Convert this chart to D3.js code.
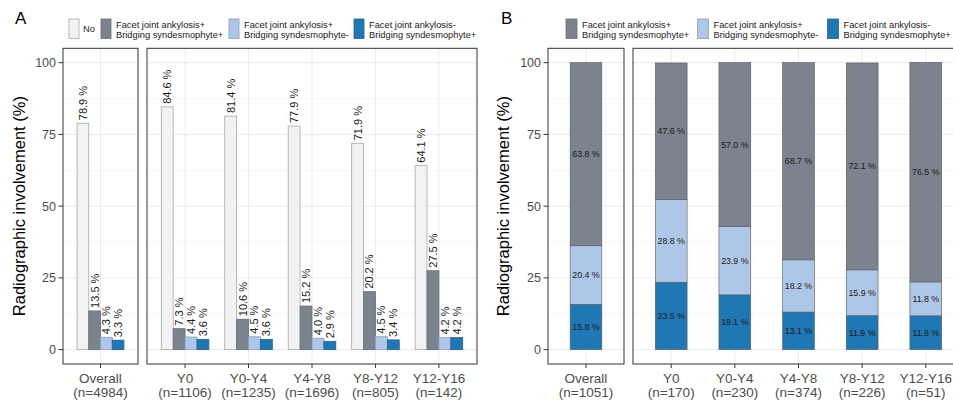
<!DOCTYPE html>
<html>
<head>
<meta charset="utf-8">
<script src="https://cdn.jsdelivr.net/npm/d3@7"></script>
<style>
  html, body { margin: 0; padding: 0; background: #fff; }
  svg { display: block; font-family: "Liberation Sans", Arial, sans-serif; }
</style>
</head>
<body>
<svg id="chart" width="953" height="403"></svg>
<script>
// ---------- DATA ----------
const categories = ["Overall", "Y0", "Y0-Y4", "Y4-Y8", "Y8-Y12", "Y12-Y16"];
const nA = [4984, 1106, 1235, 1696, 805, 142];
const nB = [1051, 170, 230, 374, 226, 51];

// Panel A (grouped bars, %)
const noA        = [78.9, 84.6, 81.4, 77.9, 71.9, 64.1];
const bothA      = [13.5, 7.3, 10.6, 15.2, 20.2, 27.5];
const facetOnlyA = [4.3, 4.4, 4.5, 4.0, 4.5, 4.2];
const bridgeOnlyA= [3.3, 3.6, 3.6, 2.9, 3.4, 4.2];

// Panel B (stacked bars, %)
const bothB      = [63.8, 47.6, 57.0, 68.7, 72.1, 76.5];
const facetOnlyB = [20.4, 28.8, 23.9, 18.2, 15.9, 11.8];
const bridgeOnlyB= [15.8, 23.5, 19.1, 13.1, 11.9, 11.8];

const yTicks = [0, 25, 50, 75, 100];
const yMinor = [12.5, 37.5, 62.5, 87.5];

const seriesNames = ["No", "Facet joint ankylosis+\nBridging syndesmophyte+",
  "Facet joint ankylosis+\nBridging syndesmophyte-", "Facet joint ankylosis-\nBridging syndesmophyte+"];
const seriesKeys = ["no", "both", "facet", "bridge"];
const colors = { no: "#f2f2f2", both: "#7b838e", facet: "#aec7e8", bridge: "#1f77b4" };
const strokesA = { no: "#a8a8a8", both: "#6a6f77", facet: "#8e9fb8", bridge: "#2a5f8a" };

// ---------- LAYOUT ----------
const svg = d3.select("#chart");
const yTop = 48.3, yBottom = 364;
const y = d3.scaleLinear().domain([-5, 105]).range([yBottom, yTop]);

function drawPanel(opts) {
  const g = svg.append("g");
  const facets = [
    { x0: opts.left[0], x1: opts.left[1], cats: [0] },
    { x0: opts.right[0], x1: opts.right[1], cats: [1, 2, 3, 4, 5] }
  ];
  facets.forEach((f, fi) => {
    const x = d3.scalePoint().domain(f.cats).range([f.x0, f.x1]).padding(0.6);
    const clipId = "clip" + opts.id + fi;
    svg.append("clipPath").attr("id", clipId).append("rect")
      .attr("x", f.x0).attr("y", yTop).attr("width", f.x1 - f.x0).attr("height", yBottom - yTop);
    const pg = g.append("g").attr("clip-path", `url(#${clipId})`);
    // grid
    pg.selectAll(".minor").data(yMinor).join("line")
      .attr("x1", f.x0).attr("x2", f.x1).attr("y1", d => y(d)).attr("y2", d => y(d))
      .attr("stroke", "#f2f2f2").attr("stroke-width", 0.6);
    pg.selectAll(".major").data(yTicks).join("line")
      .attr("x1", f.x0).attr("x2", f.x1).attr("y1", d => y(d)).attr("y2", d => y(d))
      .attr("stroke", "#ebebeb").attr("stroke-width", 1);
    pg.selectAll(".vmajor").data(f.cats).join("line")
      .attr("x1", d => x(d)).attr("x2", d => x(d)).attr("y1", yTop).attr("y2", yBottom)
      .attr("stroke", "#ebebeb").attr("stroke-width", 1);
    opts.drawBars(pg, f, x);
    // border
    g.append("rect").attr("x", f.x0).attr("y", yTop).attr("width", f.x1 - f.x0).attr("height", yBottom - yTop)
      .attr("fill", "none").attr("stroke", "#333").attr("stroke-width", 1);
    // x ticks and labels
    f.cats.forEach(c => {
      g.append("line").attr("x1", x(c)).attr("x2", x(c)).attr("y1", yBottom).attr("y2", yBottom + 4)
        .attr("stroke", "#333").attr("stroke-width", 1);
      const t = g.append("text").attr("x", x(c)).attr("y", 383).attr("text-anchor", "middle")
        .attr("font-size", 13.5).attr("fill", "#4d4d4d");
      t.append("tspan").attr("x", x(c)).text(categories[c]);
      t.append("tspan").attr("x", x(c)).attr("dy", 14).text(`(n=${opts.n[c]})`);
    });
  });
  // y axis on left facet
  const ax = opts.left[0];
  yTicks.forEach(v => {
    g.append("line").attr("x1", ax - 4.5).attr("x2", ax).attr("y1", y(v)).attr("y2", y(v))
      .attr("stroke", "#333").attr("stroke-width", 1);
    g.append("text").attr("x", ax - 7).attr("y", y(v)).attr("dy", "0.35em").attr("text-anchor", "end")
      .attr("font-size", 12.5).attr("fill", "#4d4d4d").text(v);
  });
  g.append("text").attr("transform", `translate(${opts.titleX},${(yTop + yBottom) / 2}) rotate(-90)`)
    .attr("text-anchor", "middle").attr("font-size", 16.5).attr("fill", "#000")
    .text("Radiographic involvement (%)");
  // panel tag
  g.append("text").attr("x", opts.tagX).attr("y", 24).attr("font-size", 17).attr("fill", "#000").text(opts.id);
  // legend
  opts.legend.forEach(l => {
    g.append("rect").attr("x", l.x).attr("y", 19).attr("width", l.w).attr("height", 19.5)
      .attr("fill", colors[l.key]).attr("stroke", strokesA[l.key]).attr("stroke-width", 0.8);
    const lines = seriesNames[seriesKeys.indexOf(l.key)].split("\n");
    const t = g.append("text").attr("font-size", 9.3).attr("fill", "#1a1a1a");
    if (lines.length === 1) {
      t.attr("x", l.x + l.w + 4).attr("y", 32).text(lines[0]);
    } else {
      lines.forEach((s, i) => t.append("tspan").attr("x", l.x + l.w + 5).attr("y", 27.6 + i * 10).text(s));
    }
  });
}

// Panel A
const seriesA = { no: noA, both: bothA, facet: facetOnlyA, bridge: bridgeOnlyA };
drawPanel({
  id: "A", left: [63, 138], right: [147, 477], n: nA, titleX: 25, tagX: 15,
  legend: [ { key: "no", x: 69, w: 10 }, { key: "both", x: 101, w: 10 },
            { key: "facet", x: 229, w: 10 }, { key: "bridge", x: 354, w: 10 } ],
  drawBars: (pg, f, x) => {
    const step = x.step();
    const inner = d3.scaleBand().domain(seriesKeys).range([-0.375 * step, 0.375 * step]);
    f.cats.forEach(c => {
      seriesKeys.forEach(k => {
        const v = seriesA[k][c];
        const bx = x(c) + inner(k);
        pg.append("rect").attr("x", bx).attr("width", inner.bandwidth())
          .attr("y", y(v)).attr("height", y(0) - y(v))
          .attr("fill", colors[k]).attr("stroke", strokesA[k]).attr("stroke-width", 0.8);
        pg.append("text")
          .attr("transform", `translate(${bx + inner.bandwidth() / 2},${y(v) - 3}) rotate(-90)`)
          .attr("dy", "0.36em").attr("font-size", 11).attr("fill", "#1a1a1a")
          .text(v.toFixed(1) + " %");
      });
    });
  }
});

// Panel B
const stackOrder = ["bridge", "facet", "both"];
const seriesB = { both: bothB, facet: facetOnlyB, bridge: bridgeOnlyB };
drawPanel({
  id: "B", left: [548, 624], right: [633, 964], n: nB, titleX: 509, tagX: 501,
  legend: [ { key: "both", x: 566, w: 11 }, { key: "facet", x: 697.5, w: 11 }, { key: "bridge", x: 827.5, w: 11 } ],
  drawBars: (pg, f, x) => {
    const step = x.step();
    const w = 0.5 * step;
    f.cats.forEach(c => {
      let acc = 0;
      stackOrder.forEach(k => {
        const v = seriesB[k][c];
        const y0 = acc, y1 = acc + v;
        acc = y1;
        pg.append("rect").attr("x", x(c) - w / 2).attr("width", w)
          .attr("y", y(y1)).attr("height", y(y0) - y(y1))
          .attr("fill", colors[k]).attr("stroke", "#555a60").attr("stroke-width", 0.6);
        pg.append("text").attr("x", x(c)).attr("y", y((y0 + y1) / 2)).attr("dy", "0.35em")
          .attr("text-anchor", "middle").attr("font-size", 8.8).attr("fill", "#1a1a1a")
          .text(v.toFixed(1) + " %");
      });
    });
  }
});
</script>
</body>
</html>
